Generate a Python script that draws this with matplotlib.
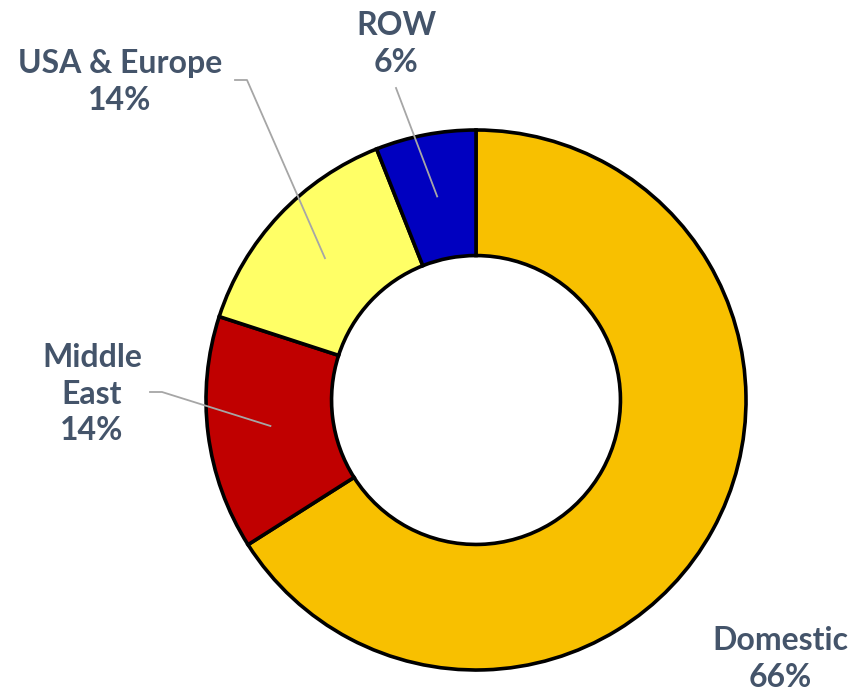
import numpy as np
import matplotlib.pyplot as plt

# data
regions = ['Domestic', 'Middle\nEast', 'USA & Europe', 'ROW']
shares = [66, 14, 14, 6]
colors = ['#F8C000', '#C00000', '#FFFF66', '#0000C0']

W, H = 861, 694
fig = plt.figure(figsize=(W / 100, H / 100), dpi=100)
ax = fig.add_axes([0, 0, 1, 1])
ax.set_xlim(0, W)
ax.set_ylim(0, H)
ax.set_aspect('equal')
ax.axis('off')

cx, cy = 476, H - 400
R = 270
width = 0.465

wedges, _ = ax.pie(shares, colors=colors, startangle=90, counterclock=False,
                   radius=R, center=(cx, cy),
                   wedgeprops=dict(width=R * width, edgecolor='black', linewidth=2.6))
ax.set_xlim(0, W)
ax.set_ylim(0, H)

txt_color = '#44546A'
lead_color = '#A6A6A6'
font = dict(family=['Lato', 'DejaVu Sans'], fontsize=23, fontweight='bold',
            color=txt_color, ha='center', va='center', linespacing=1.32)

# label positions (image px) and leader start points
label_pos = {
    'Domestic': (780, 659),
    'Middle\nEast': (92, 394),
    'USA & Europe': (120, 82),
    'ROW': (396, 44),
}
leader = {
    'Middle\nEast': [(150, 392), (162, 392)],
    'USA & Europe': [(235, 80), (247, 80)],
    'ROW': [(396, 88)],
}

r_mid = R * (1 - width / 2)
for w, name, val in zip(wedges, regions, shares):
    x, y = label_pos[name]
    ax.text(x, H - y, f'{name}\n{val}%', **font)
    if name in leader:
        ang = np.deg2rad((w.theta1 + w.theta2) / 2)
        pts = [(px, H - py) for px, py in leader[name]]
        pts.append((cx + r_mid * np.cos(ang), cy + r_mid * np.sin(ang)))
        xs, ys = zip(*pts)
        ax.plot(xs, ys, color=lead_color, lw=1.3, zorder=5)

fig.savefig('out.png', dpi=100)
